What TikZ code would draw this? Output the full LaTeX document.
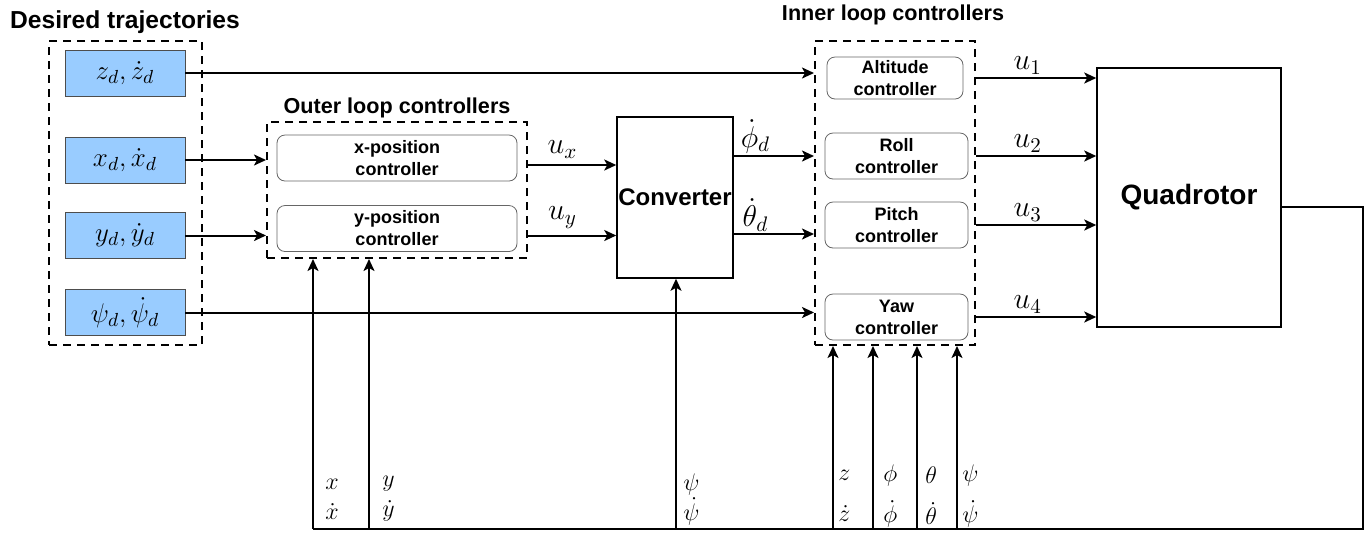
\documentclass[tikz,border=0pt]{standalone}
\usepackage{fix-cm}
\usepackage{fontspec}
\setsansfont{Liberation Sans}
\usepackage{tikz}
\usetikzlibrary{arrows.meta,positioning,calc}
\definecolor{TrajBlue}{HTML}{99CCFF}
\definecolor{TrajEdge}{HTML}{4D4D4D}

\begin{document}
\begin{tikzpicture}[x=0.5pt, y=-0.5pt,
  traj/.style={draw=TrajEdge, fill=TrajBlue, minimum width=60pt,
    minimum height=23pt, inner sep=0pt, font=\fontsize{13.5}{15}\selectfont},
  grp/.style={draw, dash pattern=on 4pt off 3pt, line width=1pt, inner sep=0pt},
  ctrl/.style={draw=black!60, rounded corners=4pt, minimum height=23pt,
    inner sep=0pt, align=center, font=\sffamily\bfseries\fontsize{9}{11}\selectfont},
  blk/.style={draw, line width=0.75pt, inner sep=0pt},
  ttl/.style={font=\sffamily\bfseries\fontsize{10.8}{12}\selectfont},
  sig/.style={-{Stealth[length=6pt, width=5.5pt, inset=1.5pt]}, line width=1pt},
  lbl/.style={font=\fontsize{15}{17}\selectfont, inner sep=1pt},
  fbl/.style={inner sep=0pt, anchor=west, align=left}]
  \useasboundingbox (0,0) rectangle (1372,532);

  % desired trajectories
  \node[grp, minimum width=76.5pt, minimum height=152pt] (desired) at (125.5,193) {};
  \node[ttl, font=\sffamily\bfseries\fontsize{12.3}{14}\selectfont] (desiredttl) at (125,22) {Desired trajectories};
  \node[traj] (zd) at (125,73) {$z_d,\dot z_d$};
  \node[traj] (xd) at (125,160) {$x_d,\dot x_d$};
  \node[traj] (yd) at (125,235.5) {$y_d,\dot y_d$};
  \node[traj] (psid) at (125,312.5) {$\psi_d,\dot\psi_d$};

  % outer loop
  \node[grp, minimum width=130pt, minimum height=68pt] (outer) at (397,190) {};
  \node[ttl] (outerttl) at (397,108) {Outer loop controllers};
  \node[ctrl, minimum width=120pt] (xpos) at (397,158) {x-position\\controller};
  \node[ctrl, minimum width=120pt] (ypos) at (397,228.5) {y-position\\controller};

  \node[blk, minimum width=58pt, minimum height=80.5pt,
    font=\sffamily\bfseries\fontsize{12}{14}\selectfont] (conv) at (675,197.5) {Converter};

  % inner loop
  \node[grp, minimum width=80pt, minimum height=152pt] (inner) at (895,193) {};
  \node[ttl] (innerttl) at (893,15) {Inner loop controllers};
  \node[ctrl, minimum width=68pt, minimum height=21pt] (alt) at (895,78) {Altitude\\controller};
  \node[ctrl, minimum width=71.5pt] (roll) at (896.5,156) {Roll\\controller};
  \node[ctrl, minimum width=71.5pt] (pitch) at (896.5,225) {Pitch\\controller};
  \node[ctrl, minimum width=71.5pt] (yaw) at (896.5,317) {Yaw\\controller};

  \node[blk, minimum width=92pt, minimum height=129.5pt,
    font=\sffamily\bfseries\fontsize{14}{16}\selectfont] (quad) at (1189,197.5) {Quadrotor};

  % references
  \draw[sig] (zd.east) -- (zd.east -| inner.west);
  \draw[sig] (xd.east) -- (xd.east -| outer.west);
  \draw[sig] (yd.east) -- (yd.east -| outer.west);
  \draw[sig] (psid.east) -- (psid.east -| inner.west);

  \draw[sig] ($(outer.east |- xpos)+(0,7)$) -- node[lbl, above=2pt, pos=0.39] {$u_x$} ($(conv.west |- xpos)+(0,7)$);
  \draw[sig] ($(outer.east |- ypos)+(0,7)$) -- node[lbl, above=2pt, pos=0.39] {$u_y$} ($(conv.west |- ypos)+(0,7)$);
  \draw[sig] (conv.east |- roll) -- node[lbl, above, pos=0.27] {$\dot\phi_d$} (inner.west |- roll);
  \draw[sig] ($(conv.east |- pitch)+(0,9)$) -- node[lbl, above, pos=0.27] {$\dot\theta_d$} ($(inner.west |- pitch)+(0,9)$);

  \draw[sig] (inner.east |- alt) -- node[lbl, above=0.5pt, pos=0.43] {$u_1$} (quad.west |- alt);
  \draw[sig] (inner.east |- roll) -- node[lbl, above=0.5pt, pos=0.43] {$u_2$} (quad.west |- roll);
  \draw[sig] (inner.east |- pitch) -- node[lbl, above=0.5pt, pos=0.43] {$u_3$} (quad.west |- pitch);
  \draw[sig] (inner.east |- yaw) -- node[lbl, above=0.5pt, pos=0.43] {$u_4$} (quad.west |- yaw);

  % feedback
  \coordinate (qout) at ([yshift=-4.75pt]quad.east);
  \coordinate (fbr) at (1363,529);
  \coordinate (fbl) at (313,529);
  \draw[line width=1pt] (qout) -| (fbr) -- (fbl);
  \foreach \fx/\tgt [count=\i] in {313/outer, 369/outer, 676/conv,
      833/inner, 873/inner, 917/inner, 957/inner} {
    \coordinate (fb\i) at (\fx,529);
    \draw[sig] (fb\i) -- (fb\i |- \tgt.south);
  }
  \foreach \lx/\sa/\sb [count=\i] in {325/x/\dot x, 382/y/\dot y, 683/\psi/\dot\psi}
    \node[fbl, font=\fontsize{12}{15}\selectfont] (fo\i) at (\lx,499) {$\sa$\\$\sb$};
  \foreach \lx/\sa/\sb [count=\i] in {838/z/\dot z, 883/\phi/\dot\phi, 925/\theta/\dot\theta, 962/\psi/\dot\psi}
    \node[fbl, font=\fontsize{12}{20.5}\selectfont] (fi\i) at (\lx,496) {$\sa$\\$\sb$};
\end{tikzpicture}
\end{document}
